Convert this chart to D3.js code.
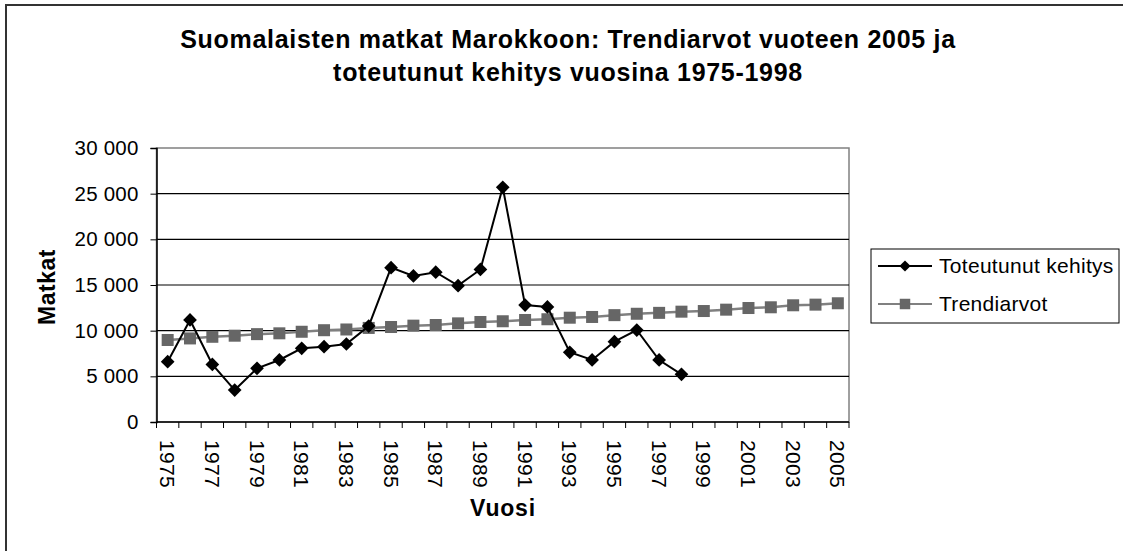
<!DOCTYPE html>
<html>
<head>
<meta charset="utf-8">
<script src="https://cdnjs.cloudflare.com/ajax/libs/d3/7.8.5/d3.min.js"></script>
<style>
  body { margin: 0; background: #fff; }
  text { font-family: "Liberation Sans", Arial, sans-serif; fill: #000; }
</style>
</head>
<body>
<div id="chart"></div>
<script>
// chart data
var years = d3.range(1975, 2006).map(String);
var actualYears = d3.range(1975, 1999).map(String);
var actual = [6600, 11170, 6300, 3500, 5880, 6790, 8070, 8250, 8540, 10500,
              16900, 15990, 16400, 14930, 16700, 25700, 12800, 12600, 7630, 6790,
              8800, 10070, 6790, 5220];
var trend = [8980, 9150, 9330, 9450, 9620, 9710, 9880, 10050, 10130, 10300,
             10400, 10550, 10620, 10800, 10950, 11030, 11170, 11250, 11420, 11500,
             11700, 11850, 11950, 12080, 12150, 12300, 12480, 12560, 12780, 12850, 13000];
var yTicks = [0, 5000, 10000, 15000, 20000, 25000, 30000];
var tickLabels = years.filter(function(d, i) { return i % 2 === 0; });
var seriesNames = ["Toteutunut kehitys", "Trendiarvot"];

var width = 1123, height = 551;
var plot = {left: 156.5, right: 849, top: 148, bottom: 422};

var svg = d3.select("#chart")
  .append("svg")
  .attr("width", width)
  .attr("height", height);

// outer chart border (cut off at right and bottom)
svg.append("rect")
  .attr("x", 6).attr("y", 5)
  .attr("width", width).attr("height", height)
  .attr("fill", "none")
  .attr("stroke", "#333")
  .attr("stroke-width", 2);

var x = d3.scaleBand()
  .domain(years)
  .range([plot.left, plot.right])
  .padding(0);

var y = d3.scaleLinear()
  .domain([0, 30000])
  .range([plot.bottom, plot.top]);

var fmt = function(d) { return d3.format(",")(d).replace(/,/g, " "); };

// plot frame
svg.append("rect")
  .attr("x", plot.left).attr("y", plot.top)
  .attr("width", plot.right - plot.left)
  .attr("height", plot.bottom - plot.top)
  .attr("fill", "none")
  .attr("stroke", "#808080")
  .attr("stroke-width", 1.5);

// gridlines
svg.selectAll(".grid")
  .data(yTicks.filter(function(d) { return d > 0 && d < 30000; }))
  .enter().append("line")
  .attr("x1", plot.left).attr("x2", plot.right)
  .attr("y1", function(d) { return y(d); })
  .attr("y2", function(d) { return y(d); })
  .attr("stroke", "#000")
  .attr("stroke-width", 1.2);

// y axis
var yAxis = svg.append("g")
  .attr("transform", "translate(" + plot.left + ",0)")
  .call(d3.axisLeft(y).tickValues(yTicks).tickFormat(fmt).tickSize(6).tickPadding(12));
yAxis.select(".domain").attr("stroke", "#000").attr("stroke-width", 1.5);
yAxis.selectAll("text")
  .style("font-size", "20.5px")
  .style("letter-spacing", "0.2px")
  .style("font-family", "Liberation Sans, Arial, sans-serif")
  .attr("fill", "#000");

// x axis, ticks between categories
var xAxis = svg.append("g")
  .attr("transform", "translate(0," + plot.bottom + ")");
xAxis.append("line")
  .attr("x1", plot.left).attr("x2", plot.right)
  .attr("stroke", "#000").attr("stroke-width", 1.5);
xAxis.selectAll(".tick")
  .data(years.concat(["end"]))
  .enter().append("line")
  .attr("x1", function(d, i) { return plot.left + i * x.bandwidth(); })
  .attr("x2", function(d, i) { return plot.left + i * x.bandwidth(); })
  .attr("y1", 0).attr("y2", 6)
  .attr("stroke", "#000").attr("stroke-width", 1);
xAxis.selectAll(".lbl")
  .data(tickLabels)
  .enter().append("text")
  .attr("transform", function(d) {
    return "translate(" + (x(d) + x.bandwidth() / 2) + ",18) rotate(90)";
  })
  .attr("dy", "0.35em")
  .style("font-size", "21px")
  .style("letter-spacing", "0.3px")
  .text(function(d) { return d; });

// title
var title = svg.append("text")
  .attr("x", 568)
  .attr("text-anchor", "middle")
  .style("font-size", "25px")
  .style("letter-spacing", "0.7px")
  .style("font-weight", "bold");
title.append("tspan").attr("x", 568).attr("y", 48).text("Suomalaisten matkat Marokkoon: Trendiarvot vuoteen 2005 ja");
title.append("tspan").attr("x", 568).attr("y", 81).text("toteutunut kehitys vuosina 1975-1998");

// axis titles
svg.append("text")
  .attr("x", 503).attr("y", 516)
  .attr("text-anchor", "middle")
  .style("font-size", "23px")
  .style("letter-spacing", "0.8px")
  .style("font-weight", "bold")
  .text("Vuosi");

svg.append("text")
  .attr("transform", "translate(55,287) rotate(-90)")
  .attr("text-anchor", "middle")
  .style("font-size", "23px")
  .style("letter-spacing", "0.5px")
  .style("font-weight", "bold")
  .text("Matkat");

var line = d3.line()
  .x(function(d) { return x(d.year) + x.bandwidth() / 2; })
  .y(function(d) { return y(d.value); });

var trendData = years.map(function(d, i) { return {year: d, value: trend[i]}; });
var actualData = actualYears.map(function(d, i) { return {year: d, value: actual[i]}; });

// trend series
svg.append("path")
  .datum(trendData)
  .attr("d", line)
  .attr("fill", "none")
  .attr("stroke", "#808080")
  .attr("stroke-width", 2.5);

svg.selectAll(".sq")
  .data(trendData)
  .enter().append("rect")
  .attr("x", function(d) { return x(d.year) + x.bandwidth() / 2 - 6; })
  .attr("y", function(d) { return y(d.value) - 6; })
  .attr("width", 12).attr("height", 12)
  .attr("fill", "#666");

// actual series
svg.append("path")
  .datum(actualData)
  .attr("d", line)
  .attr("fill", "none")
  .attr("stroke", "#000")
  .attr("stroke-width", 2);

var diamond = d3.symbol().type(d3.symbolDiamond2).size(120);
svg.selectAll(".dm")
  .data(actualData)
  .enter().append("path")
  .attr("d", diamond)
  .attr("transform", function(d) {
    return "translate(" + (x(d.year) + x.bandwidth() / 2) + "," + y(d.value) + ")";
  })
  .attr("fill", "#000");

// legend
var legend = svg.append("g");
legend.append("rect")
  .attr("x", 871).attr("y", 249)
  .attr("width", 248).attr("height", 74)
  .attr("fill", "#fff")
  .attr("stroke", "#000")
  .attr("stroke-width", 1);

var items = legend.selectAll(".item")
  .data(seriesNames)
  .enter().append("g")
  .attr("transform", function(d, i) { return "translate(0," + (266 + i * 38) + ")"; });

items.append("line")
  .attr("x1", 878).attr("x2", 932)
  .attr("stroke", function(d, i) { return i === 0 ? "#000" : "#808080"; })
  .attr("stroke-width", 2);

items.append("path")
  .attr("d", function(d, i) {
    return i === 0 ? d3.symbol().type(d3.symbolDiamond2).size(80)()
                   : d3.symbol().type(d3.symbolSquare).size(110)();
  })
  .attr("transform", "translate(905,0)")
  .attr("fill", function(d, i) { return i === 0 ? "#000" : "#666"; });

items.append("text")
  .attr("x", 939)
  .attr("dy", "0.35em")
  .style("font-size", "21px")
  .style("letter-spacing", "0.3px")
  .text(function(d) { return d; });
</script>
</body>
</html>
